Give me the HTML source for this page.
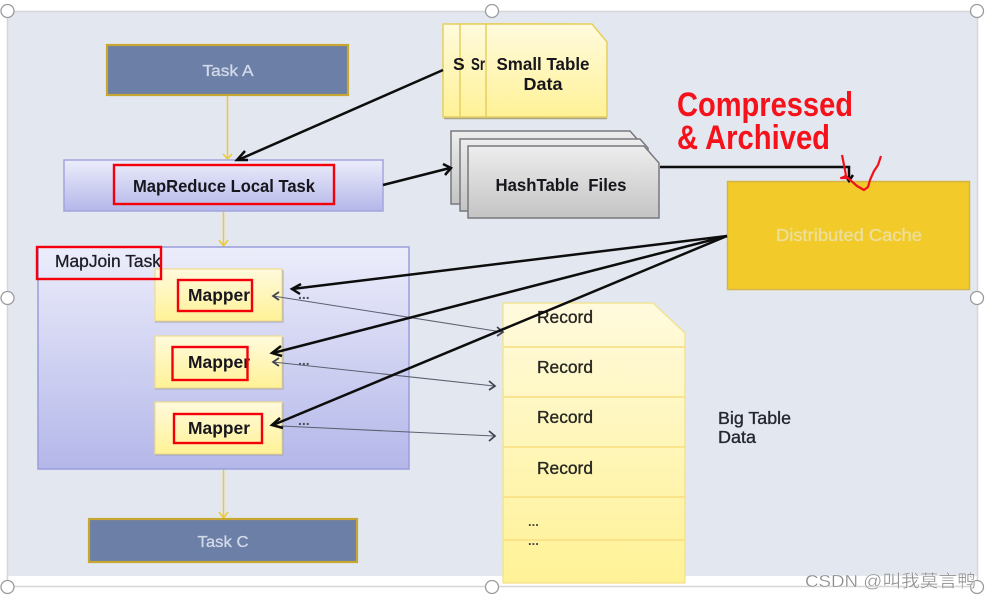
<!DOCTYPE html>
<html>
<head>
<meta charset="utf-8">
<style>
html,body{margin:0;padding:0;background:#fff;width:992px;height:600px;overflow:hidden}
svg{display:block}
text{font-family:"Liberation Sans","Noto Sans CJK SC",sans-serif}
</style>
</head>
<body>
<svg width="992" height="600" viewBox="0 0 992 600" xmlns="http://www.w3.org/2000/svg">
<defs>
<linearGradient id="blue" x1="0" y1="0" x2="0" y2="1"><stop offset="0" stop-color="#ecedfb"/><stop offset="1" stop-color="#b4b7e9"/></linearGradient>
<linearGradient id="yel" x1="0" y1="0" x2="0" y2="1"><stop offset="0" stop-color="#fffadd"/><stop offset="1" stop-color="#fff296"/></linearGradient>
<linearGradient id="gry" x1="0" y1="0" x2="0" y2="1"><stop offset="0" stop-color="#ededed"/><stop offset="1" stop-color="#c4c4c4"/></linearGradient>
<filter id="soft" x="-5%" y="-5%" width="110%" height="110%"><feGaussianBlur stdDeviation="0.35"/></filter>
</defs>

<rect x="7" y="11" width="970" height="565" fill="#e3e8f0"/>
<path d="M7.5 11.5H977.5V586.5H7.5Z" fill="none" stroke="#d6d6d8" stroke-width="1.5"/>

<g filter="url(#soft)">
<!-- task A -->
<rect x="107" y="45" width="241" height="50" fill="#6c7fa6" stroke="#c8a630" stroke-width="2.200"/>
<text x="228" y="76" font-size="16" fill="#d2daea" stroke="#d2daea" stroke-width=".3" text-anchor="middle" textLength="51" lengthAdjust="spacingAndGlyphs">Task A</text>

<!-- yellow connectors -->
<g fill="none" stroke="#f0c832" stroke-width="1.500">
<path d="M227.500 96V158M223 154l4.500 5 4.500-5"/>
<path d="M223.500 211V245M219 240l4.500 6 4.500-6"/>
<path d="M223.500 469V517M219 512l4.500 6 4.500-6"/>
</g>

<!-- MR local -->
<rect x="64" y="160" width="319" height="51" fill="url(#blue)" stroke="#a3a6de" stroke-width="1.500"/>
<text x="224" y="192" font-size="17.500" font-weight="bold" fill="#14141c" text-anchor="middle" textLength="182" lengthAdjust="spacingAndGlyphs">MapReduce Local Task</text>

<!-- MapJoin -->
<rect x="38" y="247" width="371" height="222" fill="url(#blue)" stroke="#9a9ddb" stroke-width="1.500"/>
<text x="55" y="267" font-size="17.500" fill="#1c1c24" stroke="#1c1c24" stroke-width=".3" textLength="106" lengthAdjust="spacingAndGlyphs">MapJoin Task</text>

<!-- mappers -->
<g fill="url(#yel)" stroke="#f0dc8c" stroke-width="1.200">
<rect x="155" y="269" width="127" height="52"/>
<rect x="155" y="336" width="127" height="52"/>
<rect x="155" y="402" width="127" height="52"/>
</g>
<g fill="none" stroke="#a8a8b0" stroke-width="1.200">
<path d="M155 322H283V270" opacity=".8"/>
<path d="M155 389H283V337" opacity=".8"/>
<path d="M155 455H283V403" opacity=".8"/>
</g>
<g font-size="17.500" font-weight="bold" fill="#14141c" text-anchor="middle">
<text x="219" y="301" textLength="62" lengthAdjust="spacingAndGlyphs">Mapper</text>
<text x="219" y="368" textLength="62" lengthAdjust="spacingAndGlyphs">Mapper</text>
<text x="219" y="434" textLength="62" lengthAdjust="spacingAndGlyphs">Mapper</text>
</g>
<g font-size="14" font-weight="bold" fill="#50505c">
<text x="298" y="299">...</text>
<text x="298" y="365">...</text>
<text x="298" y="425">...</text>
</g>

<!-- Task C -->
<rect x="89" y="519" width="268" height="43" fill="#6c7fa6" stroke="#c8a630" stroke-width="2.200"/>
<text x="223" y="547" font-size="16" fill="#d2daea" stroke="#d2daea" stroke-width=".3" text-anchor="middle" textLength="51" lengthAdjust="spacingAndGlyphs">Task C</text>

<!-- small table docs -->
<g stroke="#e6cf5e" stroke-width="1.500" fill="url(#yel)">
<rect x="443" y="24" width="100" height="93"/>
<rect x="460" y="24" width="110" height="93"/>
<path d="M486 24H592L607 42V117H486Z"/>
</g>
<path d="M444 118.500H607" stroke="#aaa684" stroke-width="1.400"/>
<g font-size="17.500" font-weight="bold" fill="#14141c">
<text x="453" y="70">S</text>
<text x="471" y="70" textLength="14" lengthAdjust="spacingAndGlyphs">Sr</text>
<text x="543" y="70" text-anchor="middle" textLength="93" lengthAdjust="spacingAndGlyphs">Small Table</text>
<text x="543" y="90" text-anchor="middle" textLength="39" lengthAdjust="spacingAndGlyphs">Data</text>
</g>

<!-- hash docs -->
<g stroke="#78787e" stroke-width="1.500" fill="url(#gry)">
<path d="M451 131H630L638 140V204H451Z"/>
<path d="M460 139H640L648 148V211H460Z"/>
<path d="M468 146H644L659 163V218H468Z"/>
</g>
<text x="561" y="191" font-size="17.500" font-weight="bold" fill="#14141c" text-anchor="middle" textLength="131" lengthAdjust="spacingAndGlyphs" xml:space="preserve">HashTable  Files</text>

<!-- Distributed cache -->
<rect x="727.500" y="181.500" width="242" height="108" fill="#f2cb2c" stroke="#d4b44a" stroke-width="1.500"/>
<text x="849" y="241" font-size="17.500" fill="#ecdf9e" stroke="#ecdf9e" stroke-width=".3" text-anchor="middle" textLength="146" lengthAdjust="spacingAndGlyphs">Distributed Cache</text>

<!-- Big table -->
<path d="M503 303H653L685 333V583H503Z" fill="url(#yel)" stroke="#f2e08a" stroke-width="1.200"/>
<g stroke="#f8dd80" stroke-width="1.500">
<path d="M503 347H685M503 397H685M503 447H685M503 497H685M503 540H685"/>
</g>
<g font-size="17.500" fill="#262622" stroke="#262622" stroke-width=".35">
<text x="537" y="323" textLength="56" lengthAdjust="spacingAndGlyphs">Record</text>
<text x="537" y="373" textLength="56" lengthAdjust="spacingAndGlyphs">Record</text>
<text x="537" y="423" textLength="56" lengthAdjust="spacingAndGlyphs">Record</text>
<text x="537" y="474" textLength="56" lengthAdjust="spacingAndGlyphs">Record</text>
</g>
<g font-size="13" font-weight="bold" fill="#4a4a40">
<text x="528" y="526">...</text>
<text x="528" y="545">...</text>
</g>
<g font-size="17.500" fill="#262730" stroke="#262730" stroke-width=".35">
<text x="718" y="424" textLength="73" lengthAdjust="spacingAndGlyphs">Big Table</text>
<text x="718" y="443" textLength="38" lengthAdjust="spacingAndGlyphs">Data</text>
</g>

<!-- thin connectors -->
<g fill="none" stroke="#5c6070" stroke-width="1.100">
<path d="M273 296L502 332"/>
<path d="M273 362L494 386"/>
<path d="M281 426L494 436"/>
</g>
<g fill="none" stroke="#3e4252" stroke-width="1.700">
<path d="M279 292L273 296L279 300"/>
<path d="M279 358L273 362L279 366"/>
<path d="M497 327L503 332L497 336"/>
<path d="M489 381L495 386L489 390"/>
<path d="M489 431L495 436L489 441"/>
</g>

<!-- thick connectors -->
<g fill="none" stroke="#0c0c0c" stroke-width="2.500">
<path d="M443 70L238 160"/>
<path d="M245 151L237 160L248 160"/>
<path d="M383 185L450 168"/>
<path d="M443 164L451 168L445 175"/>
<path d="M660 167H849V179"/>
<path d="M845 175L849 181L853 175"/>
<path d="M727 236L292 289"/>
<path d="M301 284L292 289L300 294"/>
<path d="M727 236L273 353"/>
<path d="M281 346L272 353L282 356"/>
<path d="M727 236L273 425"/>
<path d="M280 418L272 425L283 428"/>
</g>
</g>

<!-- red boxes -->
<g fill="none" stroke="#f5000a" stroke-width="2.400">
<rect x="114" y="165" width="220" height="39"/>
<rect x="37" y="247" width="124" height="32"/>
<rect x="178" y="280" width="74" height="31"/>
<rect x="172.500" y="347" width="75" height="33"/>
<rect x="174" y="414" width="88" height="29"/>
</g>

<!-- red text -->
<g font-size="34" font-weight="bold" fill="#f5121a">
<text x="677" y="116" textLength="176" lengthAdjust="spacingAndGlyphs">Compressed</text>
<text x="677" y="149" textLength="153" lengthAdjust="spacingAndGlyphs">&amp; Archived</text>
</g>
<path d="M842 155L845 170L846 176L841 178L848 178L857 186L864 190L868 187L870 180L874 171L878 165L881 156" fill="none" stroke="#f2101a" stroke-width="2.200" stroke-linejoin="round"/>

<!-- handles -->
<g fill="#fff" stroke="#9b9b9f" stroke-width="1.300">
<circle cx="7.500" cy="11" r="6.500"/>
<circle cx="492" cy="11" r="6.500"/>
<circle cx="977" cy="11" r="6.500"/>
<circle cx="7.500" cy="298" r="6.500"/>
<circle cx="977" cy="298" r="6.500"/>
<circle cx="7.500" cy="587" r="6.500"/>
<circle cx="492" cy="587" r="6.500"/>
<circle cx="977" cy="587" r="6.500"/>
</g>

<!-- watermark -->
<text x="805" y="587" font-size="17.500" fill="#8a8a8a" stroke="#fff" stroke-width="0.300" textLength="171" lengthAdjust="spacingAndGlyphs">CSDN @叫我莫言鸭</text>
</svg>
</body>
</html>
